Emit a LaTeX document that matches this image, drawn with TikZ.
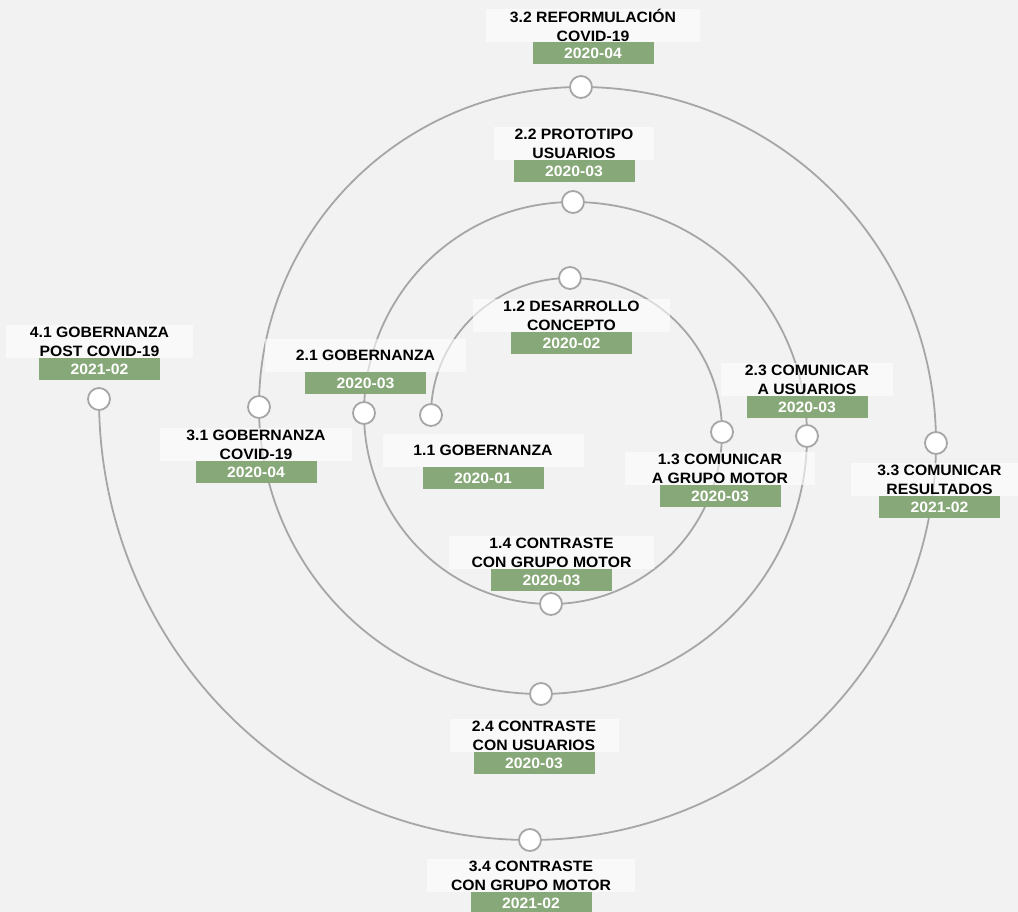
\documentclass[tikz,border=0pt]{standalone}
\usepackage{fontspec}
\setmainfont{Liberation Sans}[FakeStretch=1.05]
\usetikzlibrary{positioning}
\pgfdeclarelayer{backdrop}
\pgfdeclarelayer{background}
\pgfsetlayers{backdrop,background,main}
\definecolor{bggray}{HTML}{F2F2F2}
\definecolor{linegray}{HTML}{A6A6A6}
\definecolor{dategreen}{HTML}{87A878}
\tikzset{
  hito/.style={circle,draw=linegray,line width=1.8pt,fill=white,minimum size=22pt,inner sep=0pt},
  etiqueta/.style={fill=white,fill opacity=0.6,text opacity=1,minimum height=33pt,inner sep=0pt,align=center,font=\fontsize{15}{19}\selectfont\bfseries},
  fecha/.style={fill=dategreen,text=white,minimum width=121pt,minimum height=22pt,inner sep=0pt,font=\fontsize{15}{19}\selectfont\bfseries},
  espiral/.style={draw=linegray,line width=1.8pt}
}
\begin{document}
\begin{tikzpicture}[x=1pt,y=1pt]
  \begin{pgfonlayer}{backdrop}
    \fill[bggray] (0,0) rectangle (1018,-912);
  \end{pgfonlayer}
  \useasboundingbox (0,0) rectangle (1018,-912);

   \node [hito] (n11) at (431,-415) {};
   \node [hito] (n12) at (570,-278) {};
   \node [hito] (n13) at (722,-432) {};
   \node [hito] (n14) at (551,-604) {};
   \node [hito] (n21) at (364,-413) {};
   \node [hito] (n22) at (573,-202) {};
   \node [hito] (n23) at (807,-436) {};
   \node [hito] (n24) at (541,-694) {};
   \node [hito] (n31) at (259,-407) {};
   \node [hito] (n32) at (581,-87) {};
   \node [hito] (n33) at (936,-443) {};
   \node [hito] (n34) at (530,-840) {};
   \node [hito] (n41) at (99,-399) {};

   \node [etiqueta,minimum width=201pt] (e11) at (483,-450.5) {1.1 GOBERNANZA};
   \node [fecha] (f11) [below=0pt of e11] {2020-01};
   \node [etiqueta,minimum width=197pt] (e12) at (571.5,-315.5) {1.2 DESARROLLO\\CONCEPTO};
   \node [fecha] (f12) [below=0pt of e12] {2020-02};
   \node [etiqueta,minimum width=190pt] (e13) at (720,-468.5) {1.3 COMUNICAR\\A GRUPO MOTOR};
   \node [fecha] (f13) [below=0pt of e13] {2020-03};
   \node [etiqueta,minimum width=205pt] (e14) at (551.5,-552.5) {1.4 CONTRASTE\\CON GRUPO MOTOR};
   \node [fecha] (f14) [below=0pt of e14] {2020-03};
   \node [etiqueta,minimum width=201pt] (e21) at (365.5,-355.5) {2.1 GOBERNANZA};
   \node [fecha] (f21) [below=0pt of e21] {2020-03};
   \node [etiqueta,minimum width=160pt] (e22) at (574,-143.5) {2.2 PROTOTIPO\\USUARIOS};
   \node [fecha] (f22) [below=0pt of e22] {2020-03};
   \node [etiqueta,minimum width=172pt] (e23) at (807,-379.5) {2.3 COMUNICAR\\A USUARIOS};
   \node [fecha] (f23) [below=0pt of e23] {2020-03};
   \node [etiqueta,minimum width=169pt] (e24) at (534,-735.5) {2.4 CONTRASTE\\CON USUARIOS};
   \node [fecha] (f24) [below=0pt of e24] {2020-03};
   \node [etiqueta,minimum width=192pt] (e31) at (256,-444.5) {3.1 GOBERNANZA\\COVID-19};
   \node [fecha] (f31) [below=0pt of e31] {2020-04};
   \node [etiqueta,minimum width=214pt] (e32) at (593,-25.5) {3.2 REFORMULACIÓN\\COVID-19};
   \node [fecha] (f32) [below=0pt of e32] {2020-04};
   \node [etiqueta,minimum width=177pt] (e33) at (939.5,-479.5) {3.3 COMUNICAR\\RESULTADOS};
   \node [fecha] (f33) [below=0pt of e33] {2021-02};
   \node [etiqueta,minimum width=208pt] (e34) at (531,-875.5) {3.4 CONTRASTE\\CON GRUPO MOTOR};
   \node [fecha] (f34) [below=0pt of e34] {2021-02};
   \node [etiqueta,minimum width=187pt] (e41) at (99.5,-341.5) {4.1 GOBERNANZA\\POST COVID-19};
   \node [fecha] (f41) [below=0pt of e41] {2021-02};

  \begin{pgfonlayer}{background}
   \path[espiral]
    (n11.center) to[out=90,in=180] (n12.center)
                 to[out=0,in=90] (n13.center)
                 to[out=-90,in=0] (n14.center)
                 to[out=180,in=-90] (n21.center)
                 to[out=90,in=180] (n22.center)
                 to[out=0,in=90] (n23.center)
                 to[out=-90,in=0] (n24.center)
                 to[out=180,in=-90] (n31.center)
                 to[out=90,in=180] (n32.center)
                 to[out=0,in=90] (n33.center)
                 to[out=-90,in=0] (n34.center)
                 to[out=180,in=-90] (n41.center);
  \end{pgfonlayer}
\end{tikzpicture}
\end{document}
